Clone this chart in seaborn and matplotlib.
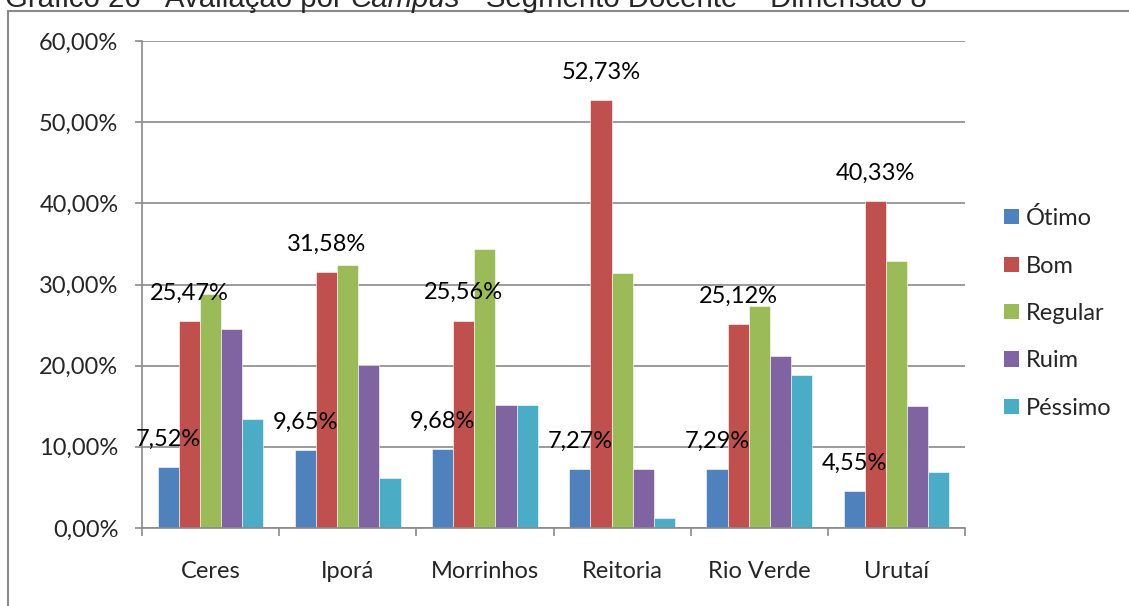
import pandas as pd
import matplotlib.pyplot as plt
import seaborn as sns
from matplotlib.patches import Patch, Rectangle
from matplotlib.ticker import FixedLocator, FuncFormatter

# data (percent)
campi = ['Ceres', 'Iporá', 'Morrinhos', 'Reitoria', 'Rio Verde', 'Urutaí']
niveis = ['Ótimo', 'Bom', 'Regular', 'Ruim', 'Péssimo']
otimo = [7.52, 9.65, 9.68, 7.27, 7.29, 4.55]
bom = [25.47, 31.58, 25.56, 52.73, 25.12, 40.33]
regular = [28.8, 32.4, 34.4, 31.4, 27.4, 32.9]
ruim = [24.5, 20.1, 15.1, 7.27, 21.2, 15.0]
pessimo = [13.4, 6.1, 15.1, 1.2, 18.8, 6.9]
cores = ['#4F81BD', '#C0504D', '#9BBB59', '#8064A2', '#4BACC6']
yticks = [0, 10, 20, 30, 40, 50, 60]

series = dict(zip(niveis, [otimo, bom, regular, ruim, pessimo]))
rows = []
for nivel, vals in series.items():
    for campus, v in zip(campi, vals):
        rows.append({'campus': campus, 'nivel': nivel, 'valor': v})
df = pd.DataFrame(rows)

sns.set_style('white')
plt.rcParams['font.family'] = ['Lato', 'DejaVu Sans']

GRAY = '#8a8a8a'
fs = 17

fig = plt.figure(figsize=(11.29, 6.06), dpi=100)
ax = fig.add_axes([142 / 1129, 78 / 606, 823 / 1129, 487 / 606])

sns.barplot(data=df, x='campus', y='valor', hue='nivel', order=campi,
            hue_order=niveis, palette=cores, width=0.77, gap=0,
            saturation=1, edgecolor='white', linewidth=0.4, ax=ax, legend=False)

# data labels only for the first two series
for cont in ax.containers[:2]:
    for bar in cont:
        h = bar.get_height()
        ax.annotate(f'{h:.2f}'.replace('.', ',') + '%',
                    (bar.get_x() + bar.get_width() / 2, h),
                    xytext=(0, 20), textcoords='offset points',
                    ha='center', va='center', fontsize=fs, color='black')

ax.set_ylim(0, 60)
ax.set_xlim(-0.5, len(campi) - 0.5)
ax.yaxis.set_major_locator(FixedLocator(yticks))
ax.yaxis.set_major_formatter(FuncFormatter(lambda v, p: f'{v:.2f}'.replace('.', ',') + '%'))
ax.yaxis.grid(True, color=GRAY, linewidth=1.2)
ax.set_axisbelow(True)
ax.set_xlabel('')
ax.set_ylabel('')

ax.xaxis.set_minor_locator(FixedLocator([i - 0.5 for i in range(len(campi) + 1)]))
ax.tick_params(axis='x', which='major', length=0, pad=24, labelsize=fs)
ax.tick_params(axis='x', which='minor', length=6, width=1.2, color=GRAY, direction='out', bottom=True)
ax.tick_params(axis='y', length=5, width=1.2, color=GRAY, direction='out', left=True,
               pad=12, labelsize=fs)

for side in ['top', 'right']:
    ax.spines[side].set_visible(False)
for side in ['left', 'bottom']:
    ax.spines[side].set_color(GRAY)
    ax.spines[side].set_linewidth(1.2)

handles = [Patch(facecolor=c, edgecolor='none', label=n) for c, n in zip(cores, niveis)]
fig.legend(handles=handles, loc='center left', bbox_to_anchor=(1004 / 1129, 0.4835),
           frameon=False, fontsize=fs, handlelength=0.62, handleheight=0.62,
           handletextpad=0.32, labelspacing=1.12, borderpad=0, borderaxespad=0)

# outer chart frame (only left and top edges visible in the crop)
fig.add_artist(Rectangle((8 / 1129, -0.1), 1.2, 1 - 11 / 606 + 0.1,
                         transform=fig.transFigure, fill=False,
                         edgecolor=GRAY, linewidth=1.5, clip_on=False))

# title, partly cut off at the top of the image
partes = [('Gráfico 26 - Avaliação por ', 'normal'), ('Campus', 'italic'),
          (' - Segmento Docente – Dimensão 8', 'normal')]
renderer = fig.canvas.get_renderer()
x = 5 / 1129
for txt, estilo in partes:
    t = fig.text(x, 1 - 7 / 606, txt, fontsize=21.2, style=estilo,
                 family='Liberation Sans', va='baseline', ha='left')
    bb = t.get_window_extent(renderer)
    x = (bb.x1) / fig.bbox.width

fig.savefig('out.png', dpi=100)
